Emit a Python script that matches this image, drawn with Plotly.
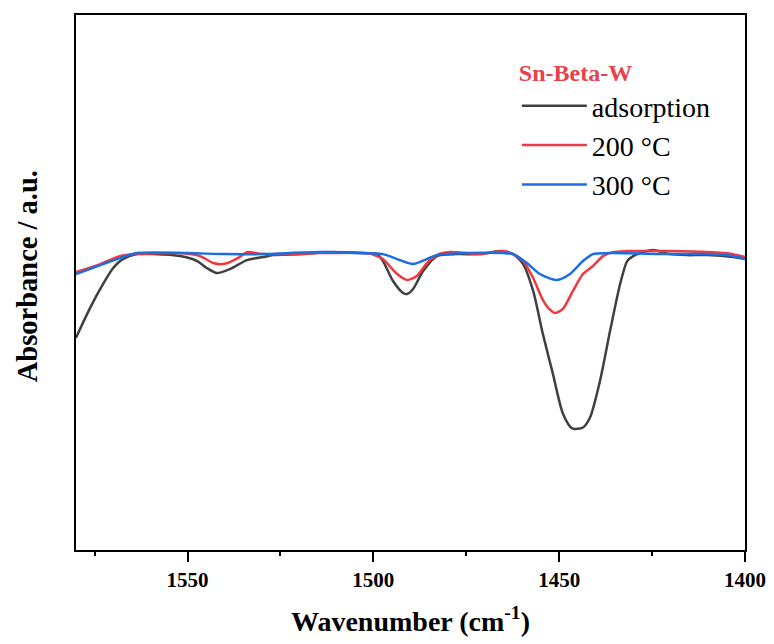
import plotly.graph_objects as go

# ---- data ----
wn_ads = [1580, 1576.2, 1572.7, 1570.0, 1567.4, 1563.6, 1559.3, 1552.0, 1547.4, 1544.8, 1542.1,
          1538.6, 1534.0, 1529.7, 1527.0, 1518.9, 1512.5, 1502.8, 1499.0, 1497.4, 1494.7, 1492.0,
          1490.9, 1489.3, 1486.6, 1482.9, 1477.5, 1471.3, 1465.9, 1462.4, 1459.7, 1457.0, 1454.4,
          1451.7, 1449.0, 1446.5, 1443.6, 1441.7, 1439.0, 1436.3, 1433.6, 1431.7, 1430.1, 1428.2,
          1424.8, 1420.2, 1415.6, 1410.2, 1403.2, 1400]
ab_ads = [0.213, 0.243, 0.267, 0.283, 0.292, 0.297, 0.297, 0.295, 0.290, 0.283, 0.278,
          0.282, 0.291, 0.294, 0.296, 0.297, 0.299, 0.298, 0.297, 0.290, 0.270, 0.258,
          0.257, 0.262, 0.280, 0.295, 0.297, 0.297, 0.300, 0.297, 0.287, 0.260, 0.217,
          0.177, 0.137, 0.122, 0.123, 0.133, 0.170, 0.220, 0.267, 0.290, 0.295, 0.298,
          0.301, 0.297, 0.296, 0.296, 0.294, 0.292]

wn_200 = [1580, 1573.5, 1568.2, 1563.6, 1552.0, 1546.6, 1543.1, 1540.4, 1538.6, 1536.0, 1534.0,
          1529.7, 1523.2, 1514.3, 1501.7, 1499.0, 1497.4, 1493.6, 1490.9, 1488.3, 1485.6, 1482.9,
          1479.4, 1471.3, 1465.1, 1462.4, 1459.7, 1457.0, 1454.4, 1452.7, 1451.1, 1449.0, 1446.3,
          1443.6, 1440.9, 1438.2, 1435.5, 1431.7, 1420.2, 1410.2, 1403.2, 1400]
ab_200 = [0.279, 0.287, 0.295, 0.297, 0.298, 0.295, 0.288, 0.287, 0.289, 0.294, 0.299,
          0.297, 0.297, 0.298, 0.298, 0.295, 0.292, 0.277, 0.271, 0.275, 0.288, 0.296,
          0.299, 0.297, 0.300, 0.297, 0.290, 0.273, 0.251, 0.242, 0.238, 0.242, 0.260,
          0.277, 0.285, 0.295, 0.299, 0.300, 0.300, 0.299, 0.297, 0.294]

wn_300 = [1580, 1572.7, 1568.2, 1563.6, 1550, 1540, 1530, 1514.3, 1505, 1497.4, 1493.6, 1489.3,
          1485.6, 1482.9, 1475, 1465, 1462.4, 1458.7, 1455.2, 1450.6, 1447.1, 1443.6, 1440.9,
          1436.3, 1420.2, 1410.2, 1403.2, 1400]
ab_300 = [0.277, 0.287, 0.293, 0.298, 0.298, 0.297, 0.297, 0.299, 0.298, 0.297, 0.292, 0.287,
          0.292, 0.296, 0.298, 0.298, 0.297, 0.288, 0.277, 0.271, 0.277, 0.290, 0.297,
          0.298, 0.297, 0.297, 0.295, 0.292]

x_ticks = [1550, 1500, 1450, 1400]
series_names = ["adsorption", "200 °C", "300 °C"]
colors = ["#404040", "#f0393f", "#1b6de3"]

fig = go.Figure()
for i, (x, y) in enumerate([(wn_ads, ab_ads), (wn_200, ab_200), (wn_300, ab_300)]):
    fig.add_trace(go.Scatter(
        x=x, y=y, mode="lines", name=series_names[i],
        line=dict(color=colors[i], width=2.5, shape="spline", smoothing=0.7),
    ))

serif = "Liberation Serif, Times New Roman, serif"
fig.update_layout(
    width=766, height=636,
    margin=dict(l=68, r=29, t=5, b=94),
    paper_bgcolor="white", plot_bgcolor="white",
    font=dict(family=serif, color="black"),
    showlegend=True,
    legend=dict(
        x=0.659, y=0.935, xanchor="left", yanchor="top",
        bgcolor="rgba(0,0,0,0)",
        font=dict(family=serif, size=28, color="black"),
        title=dict(text="<b>Sn-Beta-W</b>", font=dict(family=serif, size=24, color="#e8414b")),
        tracegroupgap=0,
        itemwidth=65,
    ),
    xaxis=dict(
        range=[1580, 1400],
        tickvals=x_ticks,
        ticktext=["<b>%d</b>" % v for v in x_ticks],
        tickfont=dict(family=serif, size=21, color="black"),
        ticks="outside", ticklen=10, tickwidth=1.5, tickcolor="black",
        minor=dict(dtick=25, tick0=1400, ticks="outside", ticklen=4, tickwidth=1.5, tickcolor="black"),
        showline=True, linewidth=2, linecolor="black", mirror=True,
        showgrid=False, zeroline=False,
        title=dict(text="<b>Wavenumber (cm<sup>-1</sup>)</b>",
                   font=dict(family=serif, size=28, color="black"), standoff=20),
    ),
    yaxis=dict(
        range=[0, 0.537],
        showticklabels=False, ticks="",
        showline=True, linewidth=2, linecolor="black", mirror=True,
        showgrid=False, zeroline=False,
    ),
    annotations=[dict(
        text="<b>Absorbance / a.u.</b>", textangle=-90,
        xref="paper", yref="paper", x=-0.073, y=0.512,
        xanchor="center", yanchor="middle", showarrow=False,
        font=dict(family=serif, size=28.5, color="black"),
    )],
)

fig.write_html("out.html")
